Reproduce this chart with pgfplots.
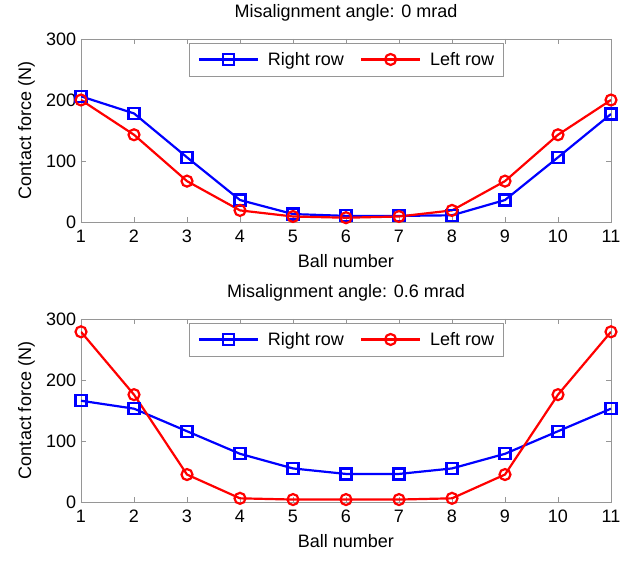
\documentclass[border=0pt]{standalone}
\usepackage{pgfplots}
\pgfplotsset{compat=1.18}
\usepackage{fontspec}
\setmainfont{Liberation Sans}

\definecolor{rowblue}{RGB}{0,0,255}
\definecolor{rowred}{RGB}{255,0,0}
\definecolor{framegray}{RGB}{150,150,150}

\pgfplotsset{
  rowplot/.style={
    width=530pt, height=183pt, scale only axis,
    xmin=1, xmax=11, ymin=0, ymax=300,
    xtick={1,...,11}, ytick={0,100,200,300},
    axis line style={framegray, line width=0.8pt},
    tick style={framegray, line width=0.8pt},
    major tick length=5pt,
    tick align=inside,
    /pgf/number format/assume math mode=true,
    xticklabel style={yshift=-4.3pt},
    yticklabel style={xshift=-1.3pt},
    xlabel={Ball number},
    ylabel={Contact force (N)},
    title style={at={(axis description cs:0.5,1)}, anchor=base, yshift=15.5pt},
    xlabel style={at={(axis description cs:0.5,0)}, anchor=base, yshift=-46pt},
    ylabel style={at={(axis description cs:-0.0943,0.5)}, anchor=base},
    legend columns=2,
    legend style={at={(0.5,1)}, anchor=north, yshift=-4pt,
      draw=framegray, fill=white, inner xsep=9pt, inner ysep=9pt,
      nodes={inner sep=0pt},
      /tikz/every odd column/.append style={column sep=9pt},
      /tikz/every even column/.append style={column sep=16pt}},
    legend image code/.code={%
      \draw[mark repeat=2, mark phase=2]
        plot coordinates {(0pt,0pt) (29.5pt,0pt) (59pt,0pt)};},
    right/.style={rowblue, line width=2.2pt, mark=square, mark size=5.5pt,
      mark options={solid, line width=2.2pt}},
    left/.style={rowred, line width=2.2pt, mark=o, mark size=5.5pt,
      mark options={solid, line width=2.2pt}},
  }
}

\begin{document}
\begin{tikzpicture}[font=\fontsize{18}{21}\selectfont]
\useasboundingbox (-81pt,-59pt) rectangle (552pt,502pt);

% Upper panel: no misalignment
\begin{axis}[rowplot, at={(0pt,280pt)}, anchor=south west,
  title={Misalignment angle: 0 mrad}]
\addplot[right] coordinates {
  (1,206) (2,178) (3,106) (4,36) (5,13) (6,10) (7,10) (8,11) (9,36) (10,106) (11,177)};
\addlegendentry{Right row}
\addplot[left] coordinates {
  (1,200) (2,143) (3,67) (4,19) (5,9) (6,7) (7,9) (8,19) (9,67) (10,143) (11,200)};
\addlegendentry{Left row}
\end{axis}

% Lower panel: 0.6 mrad misalignment
\begin{axis}[rowplot, at={(0pt,0pt)}, anchor=south west,
  title={Misalignment angle: 0.6 mrad}]
\addplot[right] coordinates {
  (1,166) (2,153) (3,116) (4,79) (5,55) (6,46) (7,46) (8,55) (9,79) (10,116) (11,153)};
\addlegendentry{Right row}
\addplot[left] coordinates {
  (1,279) (2,176) (3,45) (4,6) (5,4) (6,4) (7,4) (8,6) (9,45) (10,176) (11,279)};
\addlegendentry{Left row}
\end{axis}
\end{tikzpicture}
\end{document}
